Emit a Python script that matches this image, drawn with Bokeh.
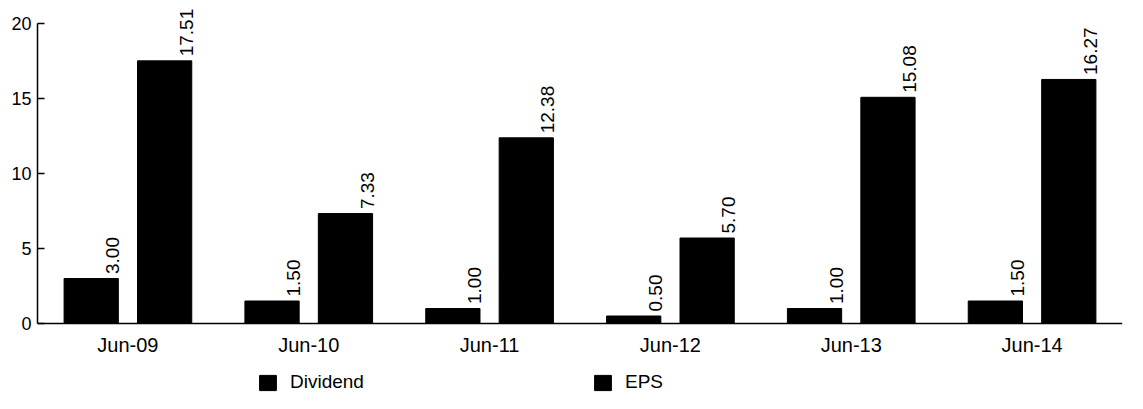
import numpy as np
from bokeh.plotting import figure
from bokeh.models import FactorRange, Range1d, FixedTicker, Legend, LegendItem, ColumnDataSource, Span
from bokeh.transform import dodge
from bokeh.core.properties import value
from bokeh.embed import file_html
from bokeh.resources import INLINE

categories = ["Jun-09", "Jun-10", "Jun-11", "Jun-12", "Jun-13", "Jun-14"]
dividend = [3.00, 1.50, 1.00, 0.50, 1.00, 1.50]
eps = [17.51, 7.33, 12.38, 5.70, 15.08, 16.27]
dividend_labels = ["3.00", "1.50", "1.00", "0.50", "1.00", "1.50"]
eps_labels = ["17.51", "7.33", "12.38", "5.70", "15.08", "16.27"]
y_ticks = [0, 5, 10, 15, 20]
series_names = ["Dividend", "EPS"]

FONT = "Liberation Sans"
GROUP_OFF = 0.203
BAR_W = 0.30
LABEL_SHIFT = 0.12
LABEL_GAP = 0.3
CAT_LABEL_Y = -1.45
PX_PER_UNIT = 15.0
TOP_PX = 23
FRAME_H = 393

y_end = 20 + TOP_PX / PX_PER_UNIT
y_start = y_end - FRAME_H / PX_PER_UNIT

src = ColumnDataSource(dict(
    cat=categories,
    dividend=dividend,
    eps=eps,
    div_lab=dividend_labels,
    eps_lab=eps_labels,
    div_lab_y=[v + LABEL_GAP for v in dividend],
    eps_lab_y=[v + LABEL_GAP for v in eps],
    cat_y=[CAT_LABEL_Y] * len(categories),
))

p = figure(
    x_range=FactorRange(factors=categories),
    y_range=Range1d(y_start, y_end),
    frame_width=1085, frame_height=FRAME_H,
    min_border_left=37, min_border_top=0, min_border_right=5, min_border_bottom=0,
    x_axis_location=None,
    output_backend="svg", toolbar_location=None,
)
p.outline_line_color = None
p.xgrid.visible = False
p.ygrid.visible = False
p.background_fill_color = "white"
p.border_fill_color = "white"

# baseline
p.add_layout(Span(location=0, dimension="width", line_color="black", line_width=1.5))

r1 = p.vbar(x=dodge("cat", -GROUP_OFF, range=p.x_range), top="dividend", width=BAR_W,
            source=src, fill_color="black", line_color="black")
r2 = p.vbar(x=dodge("cat", GROUP_OFF, range=p.x_range), top="eps", width=BAR_W,
            source=src, fill_color="black", line_color="black")

p.text(x=dodge("cat", -GROUP_OFF + LABEL_SHIFT, range=p.x_range), y="div_lab_y", text="div_lab",
       angle=np.pi / 2, text_align="left", text_baseline="middle", source=src,
       text_font=value(FONT), text_font_size="19px", text_color="black")
p.text(x=dodge("cat", GROUP_OFF + LABEL_SHIFT, range=p.x_range), y="eps_lab_y", text="eps_lab",
       angle=np.pi / 2, text_align="left", text_baseline="middle", source=src,
       text_font=value(FONT), text_font_size="19px", text_color="black")

# category labels under the baseline
p.text(x="cat", y="cat_y", text="cat", source=src, text_align="center", text_baseline="middle",
       text_font=value(FONT), text_font_size="20px", text_color="black")

# y axis
p.yaxis.ticker = FixedTicker(ticks=y_ticks)
p.yaxis.bounds = (0, 20)
p.yaxis.major_tick_in = 7
p.yaxis.major_tick_out = 0
p.yaxis.minor_tick_line_color = None
p.yaxis.axis_line_color = "black"
p.yaxis.axis_line_width = 1.5
p.yaxis.major_tick_line_color = "black"
p.yaxis.major_tick_line_width = 1.5
p.yaxis.major_label_text_font = FONT
p.yaxis.major_label_text_font_size = "18px"
p.yaxis.major_label_text_color = "black"
p.yaxis.major_label_standoff = 6

legend = Legend(
    items=[LegendItem(label=series_names[0], renderers=[r1]),
           LegendItem(label=series_names[1], renderers=[r2])],
    orientation="horizontal", location=(220, 0),
    glyph_width=21, glyph_height=19, label_standoff=12, label_width=100, spacing=202,
    padding=0, margin=0, border_line_color=None, background_fill_alpha=0,
    label_text_font=FONT, label_text_font_size="19px", label_text_color="black",
)
p.add_layout(legend)

open("out.html", "w").write(file_html(p, INLINE))
